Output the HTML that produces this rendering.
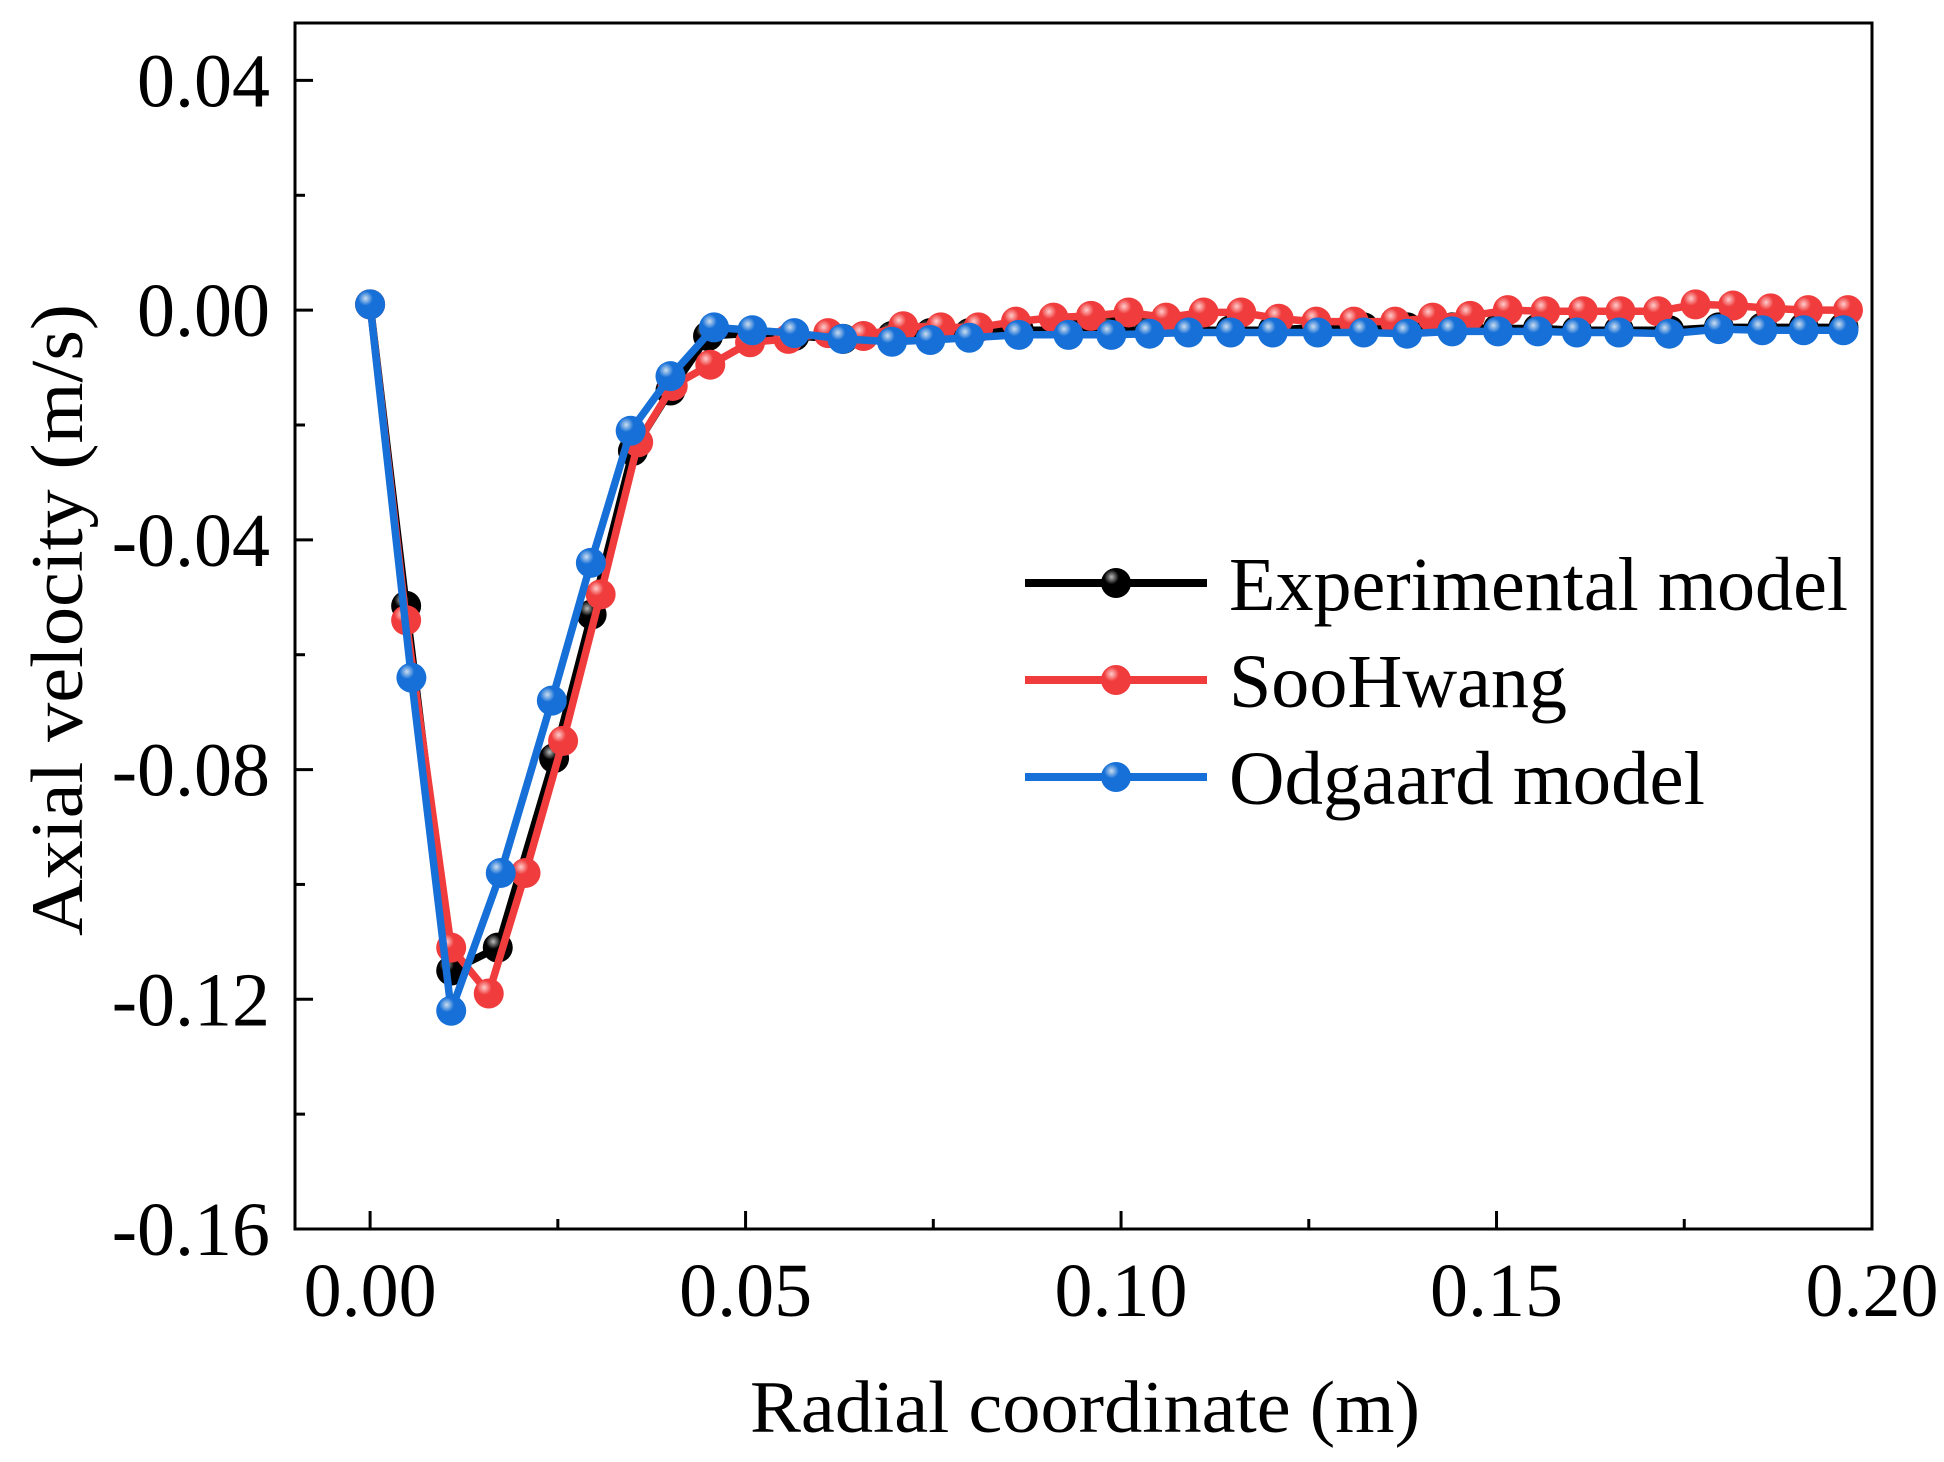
<!DOCTYPE html>
<html><head><meta charset="utf-8"><style>
html,body{margin:0;padding:0;background:#fff;}
svg{display:block;font-family:"Liberation Serif",serif;}
</style></head><body>
<svg id="chart" width="1944" height="1462" viewBox="0 0 1944 1462" xmlns="http://www.w3.org/2000/svg">
<defs>
<radialGradient id="gk" cx="0.35" cy="0.3" r="0.7"><stop offset="0" stop-color="#bbb"/><stop offset="0.35" stop-color="#000"/><stop offset="1" stop-color="#000"/></radialGradient>
<radialGradient id="gr" cx="0.35" cy="0.3" r="0.7"><stop offset="0" stop-color="#fcc"/><stop offset="0.35" stop-color="#f03c3c"/><stop offset="1" stop-color="#f03c3c"/></radialGradient>
<radialGradient id="gb" cx="0.35" cy="0.3" r="0.7"><stop offset="0" stop-color="#cde"/><stop offset="0.35" stop-color="#1670d8"/><stop offset="1" stop-color="#1670d8"/></radialGradient>
</defs>
<g id="plot"></g>
<g id="axes"></g>
<g id="legend"></g>
</svg>
<script>
const xTicks=[0,0.05,0.10,0.15,0.20];
const xTickLabels=["0.00","0.05","0.10","0.15","0.20"];
const yTicks=[0.04,0,-0.04,-0.08,-0.12,-0.16];
const yTickLabels=["0.04","0.00","-0.04","-0.08","-0.12","-0.16"];
const seriesNames=["Experimental model","SooHwang","Odgaard model"];
const expX=[0,0.0048,0.0108,0.017,0.0245,0.0295,0.035,0.040,0.045,0.051,0.0565,0.063,0.0695,0.0746,0.0798,0.0864,0.093,0.0987,0.1038,0.109,0.1146,0.1202,0.1262,0.1323,0.1381,0.1441,0.1502,0.1555,0.1607,0.1663,0.173,0.1796,0.1854,0.1909,0.1962];
const expY=[0.001,-0.0515,-0.115,-0.111,-0.078,-0.053,-0.0245,-0.014,-0.0045,-0.004,-0.0045,-0.005,-0.0045,-0.004,-0.004,-0.0035,-0.0035,-0.0035,-0.0035,-0.0035,-0.0035,-0.0035,-0.003,-0.003,-0.003,-0.003,-0.0032,-0.0032,-0.0035,-0.0035,-0.0035,-0.003,-0.003,-0.003,-0.003];
const sooX=[0,0.0048,0.0108,0.0158,0.0207,0.0257,0.0307,0.0357,0.0403,0.0453,0.0506,0.0557,0.061,0.0657,0.071,0.076,0.081,0.086,0.091,0.096,0.101,0.106,0.111,0.116,0.121,0.126,0.131,0.1365,0.1415,0.1465,0.1515,0.1565,0.1615,0.1665,0.1715,0.1765,0.1815,0.1865,0.1915,0.1968];
const sooY=[0.001,-0.054,-0.111,-0.119,-0.098,-0.075,-0.0495,-0.023,-0.0132,-0.0095,-0.0056,-0.005,-0.004,-0.0045,-0.0028,-0.003,-0.003,-0.002,-0.0013,-0.001,-0.0004,-0.0013,-0.0004,-0.0004,-0.0015,-0.002,-0.002,-0.002,-0.0013,-0.001,0,-0.0002,-0.0002,-0.0002,-0.0002,0.001,0.0008,0.0003,0,0];
const odgX=[0,0.0055,0.0108,0.0174,0.0242,0.0294,0.0347,0.040,0.0458,0.0509,0.0565,0.0629,0.0695,0.0746,0.0798,0.0864,0.093,0.0987,0.1038,0.109,0.1146,0.1202,0.1262,0.1323,0.1381,0.1441,0.1502,0.1555,0.1607,0.1663,0.173,0.1796,0.1854,0.1909,0.1962];
const odgY=[0.001,-0.064,-0.122,-0.098,-0.068,-0.044,-0.021,-0.0115,-0.003,-0.0035,-0.004,-0.005,-0.0055,-0.0052,-0.0048,-0.0043,-0.0043,-0.0043,-0.0041,-0.0039,-0.0039,-0.0039,-0.0039,-0.0039,-0.0041,-0.0037,-0.0037,-0.0037,-0.0039,-0.0039,-0.0041,-0.0033,-0.0035,-0.0035,-0.0035];

const NS="http://www.w3.org/2000/svg";
const L=295,R=1872,T=23,B=1229;
const X0=-0.01,X1=0.20,Y0=-0.16,Y1=0.05;
function sx(v){return L+(v-X0)/(X1-X0)*(R-L);}
function sy(v){return B-(v-Y0)/(Y1-Y0)*(B-T);}
function mk(tag,attrs,parent){const e=document.createElementNS(NS,tag);for(const k in attrs)e.setAttribute(k,attrs[k]);parent.appendChild(e);return e;}
const plot=document.getElementById('plot'),axes=document.getElementById('axes'),legend=document.getElementById('legend');

const series=[[expX,expY,'#000','url(#gk)','experimental'],[sooX,sooY,'#f03c3c','url(#gr)','soohwang'],[odgX,odgY,'#1670d8','url(#gb)','odgaard']];
series.forEach(s=>{
  const g=mk('g',{},plot);
  
  
  const pts=s[0].map((x,i)=>sx(x).toFixed(1)+','+sy(s[1][i]).toFixed(1)).join(' ');
  const pl=mk('polyline',{points:pts,fill:'none',stroke:s[2],'stroke-width':7.5,'stroke-linejoin':'round'},g);
  
  
  s[0].forEach((x,i)=>{
    const c=mk('circle',{cx:sx(x),cy:sy(s[1][i]),r:15,fill:s[3]},g);
    
    
  });
});

const frame=mk('rect',{x:L,y:T,width:R-L,height:B-T,fill:'none',stroke:'#000','stroke-width':3},axes);


for(let v=-0.16;v<=0.0401;v+=0.02){
  const y=sy(v);const major=Math.abs(Math.round(v*100)%4)===0;
  const t=mk('line',{x1:L,x2:L+(major?18:10),y1:y,y2:y,stroke:'#000','stroke-width':3},axes);
  
  
}
yTicks.forEach((v,i)=>{
  const t=mk('text',{x:270,y:sy(v)+26,'text-anchor':'end','font-size':76},axes);
  t.textContent=yTickLabels[i];
  
  
});
for(let v=0;v<=0.2001;v+=0.025){
  const x=sx(v);const major=Math.round(v*1000)%50===0;
  const t=mk('line',{x1:x,x2:x,y1:B,y2:B-(major?18:10),stroke:'#000','stroke-width':3},axes);
  
  
}
xTicks.forEach((v,i)=>{
  const t=mk('text',{x:sx(v),y:1316,'text-anchor':'middle','font-size':76},axes);
  t.textContent=xTickLabels[i];
  
  
});
const xt=mk('text',{x:1085,y:1432,'text-anchor':'middle','font-size':74,textLength:670,lengthAdjust:'spacingAndGlyphs'},axes);
xt.textContent='Radial coordinate (m)';


const yt=mk('text',{x:0,y:0,'text-anchor':'middle','font-size':74,textLength:632,lengthAdjust:'spacingAndGlyphs',transform:'translate(82,620) rotate(-90)'},axes);
yt.textContent='Axial velocity (m/s)';



const legY=[583,680,777];const legW=[619,338,476];
series.forEach((s,i)=>{
  const g=mk('g',{},legend);
  
  
  mk('line',{x1:1025,x2:1207,y1:legY[i],y2:legY[i],stroke:s[2],'stroke-width':8},g);
  mk('circle',{cx:1116,cy:legY[i],r:15,fill:s[3]},g);
  const t=mk('text',{x:1229,y:legY[i]+27,'font-size':76,textLength:legW[i],lengthAdjust:'spacingAndGlyphs'},g);
  t.textContent=seriesNames[i];
});
</script>
</body></html>
